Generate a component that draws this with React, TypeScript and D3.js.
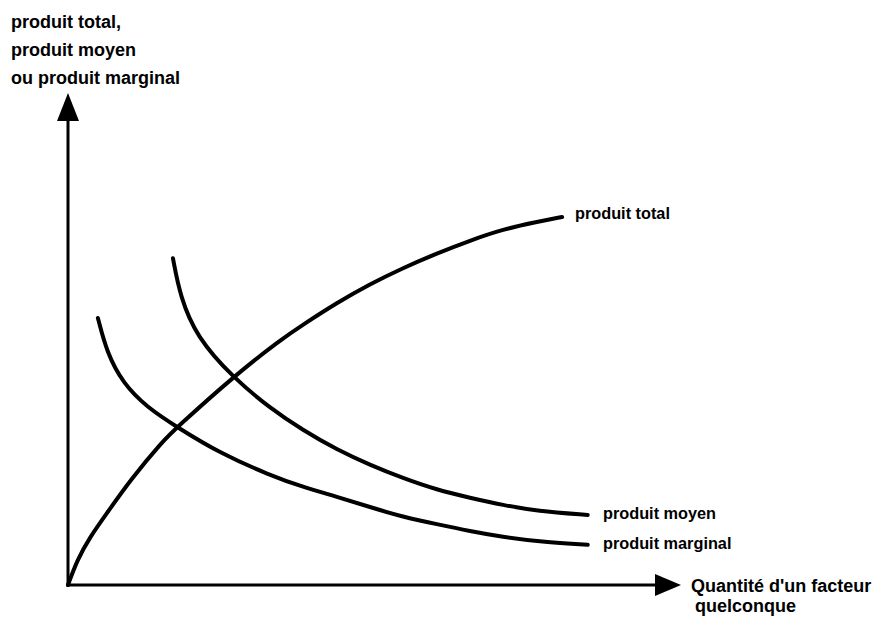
import React from 'react';
import * as d3 from 'd3';

// courbes (unités arbitraires, 0..100 sur chaque axe)
const totalX = [0, 1.5, 3.6, 6.4, 10.2, 15.4, 17.9, 27.0, 34.8, 38.5, 44.1, 49.5, 54.9, 60.5, 65.9, 71.3, 76.9, 81.0];
const totalY = [0, 5.1, 9.8, 14.7, 21.4, 29.2, 32.2, 42.4, 50.0, 53.1, 57.6, 61.4, 64.7, 67.7, 70.3, 72.6, 74.1, 75.1];

const moyenX = [17.2, 18.4, 21.1, 27.0, 33.1, 38.5, 44.1, 49.5, 54.9, 60.5, 65.9, 71.3, 76.9, 85.2];
const moyenY = [66.7, 58.8, 50.6, 42.4, 36.1, 31.6, 27.6, 24.5, 21.8, 19.4, 17.8, 16.3, 15.1, 14.3];

const marginalX = [4.9, 6.4, 9.0, 12.9, 17.9, 24.9, 33.1, 38.5, 44.1, 49.5, 54.9, 60.5, 65.9, 71.3, 76.9, 85.2];
const marginalY = [54.5, 47.3, 41.2, 36.3, 32.2, 26.9, 22.4, 20.0, 18.0, 15.9, 13.9, 12.4, 11.0, 9.8, 8.9, 8.2];

const yTitle = ['produit total,', 'produit moyen', 'ou produit marginal'];
const xTitle = ["Quantité d'un facteur", 'quelconque'];
const curveLabels = ['produit total', 'produit moyen', 'produit marginal'];

const W = 886;
const H = 628;

export default function App() {
  const x = d3.scaleLinear().domain([0, 100]).range([68, 678]);
  const y = d3.scaleLinear().domain([0, 100]).range([585, 95]);

  const line = d3
    .line<[number, number]>()
    .x((d) => x(d[0]))
    .y((d) => y(d[1]))
    .curve(d3.curveBasis);

  const zip = (xs: number[], ys: number[]) => xs.map((v, i) => [v, ys[i]] as [number, number]);
  const series = [zip(totalX, totalY), zip(moyenX, moyenY), zip(marginalX, marginalY)];

  const ox = x(0);
  const oy = y(0);
  const font = 'Arial, "Liberation Sans", sans-serif';

  return (
    <svg width={W} height={H} style={{ position: 'absolute', left: 0, top: 0, background: '#fff' }}>
      <rect width={W} height={H} fill="#fff" />
      {/* axes */}
      <line x1={ox} y1={oy + 1.5} x2={ox} y2={118} stroke="#000" strokeWidth={3} />
      <line x1={ox - 1.5} y1={oy} x2={658} y2={oy} stroke="#000" strokeWidth={3} />
      <polygon points={`${ox},93 ${ox - 11},121 ${ox + 11},121`} fill="#000" />
      <polygon points={`681,${oy} 655,${oy - 11} 655,${oy + 11}`} fill="#000" />

      {series.map((s, i) => (
        <path key={i} d={line(s) ?? ''} fill="none" stroke="#000" strokeWidth={4} strokeLinecap="round" />
      ))}

      <g fontFamily={font} fontWeight="bold" fill="#000">
        {yTitle.map((t, i) => (
          <text key={t} x={11} y={28 + i * 28} fontSize={18}>
            {t}
          </text>
        ))}
        <text x={691} y={592} fontSize={18}>{xTitle[0]}</text>
        <text x={695} y={612} fontSize={18}>{xTitle[1]}</text>
        <text x={575} y={219} fontSize={16.3}>{curveLabels[0]}</text>
        <text x={603} y={519} fontSize={16.3}>{curveLabels[1]}</text>
        <text x={603} y={549} fontSize={16.3}>{curveLabels[2]}</text>
      </g>
    </svg>
  );
}
